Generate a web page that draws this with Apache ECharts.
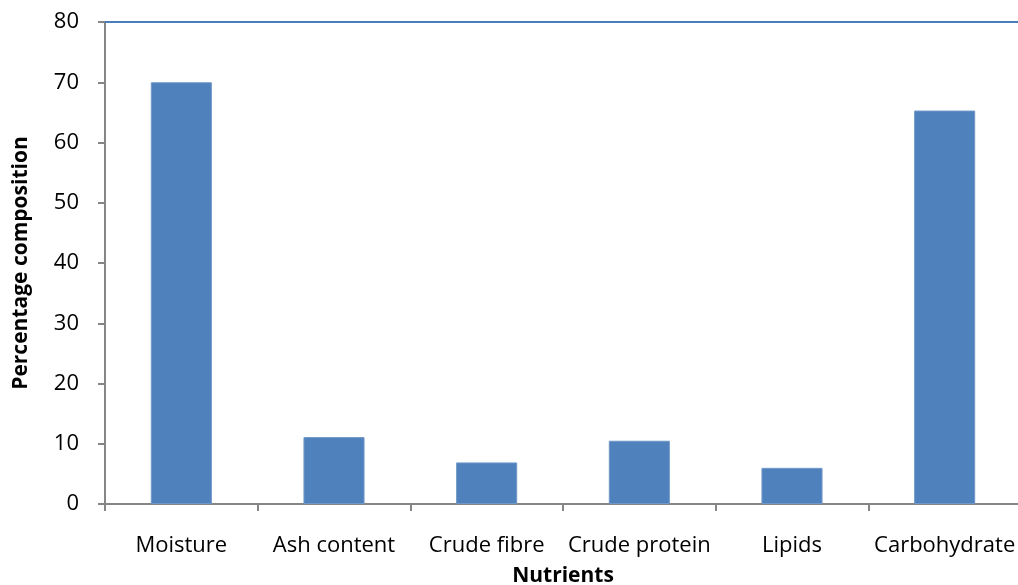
<!DOCTYPE html>
<html>
<head>
<meta charset="utf-8">
<script src="https://cdn.jsdelivr.net/npm/echarts@6/dist/echarts.min.js"></script>
<style>
html,body{margin:0;padding:0;background:#fff;}
#main{width:1018px;height:585px;}
</style>
</head>
<body>
<div id="main"></div>
<script>
// 数据
var nutrients = ['Moisture', 'Ash content', 'Crude fibre', 'Crude protein', 'Lipids', 'Carbohydrate'];
var composition = [70.0, 11.1, 6.9, 10.5, 6.0, 65.3];
var yTicks = [0, 10, 20, 30, 40, 50, 60, 70, 80];

var fontFam = '"Open Sans", "Liberation Sans", sans-serif';
var axisGray = '#868686';

var chart = echarts.init(document.getElementById('main'));
var option = {
    animation: false,
    grid: {
        left: 105,
        top: 22,
        width: 916,
        height: 482,
        containLabel: false,
        outerBoundsMode: 'none'
    },
    xAxis: [
        {
            type: 'category',
            data: nutrients,
            name: 'Nutrients',
            nameLocation: 'middle',
            nameGap: 62,
            nameTextStyle: { fontFamily: fontFam, fontSize: 21, fontWeight: 'bold', color: '#000' },
            axisLine: { lineStyle: { color: axisGray, width: 2 } },
            axisTick: { show: true, length: 7, lineStyle: { color: axisGray, width: 2 } },
            axisLabel: { fontFamily: fontFam, fontSize: 22, color: '#000', margin: 31, interval: 0 }
        },
        {
            type: 'category',
            position: 'top',
            data: nutrients,
            axisLine: { lineStyle: { color: '#4a7ebb', width: 2 } },
            axisTick: { show: false },
            axisLabel: { show: false }
        }
    ],
    yAxis: {
        type: 'value',
        min: yTicks[0],
        max: yTicks[yTicks.length - 1],
        interval: 10,
        name: 'Percentage composition',
        nameLocation: 'middle',
        nameGap: 73,
        nameRotate: 90,
        nameTextStyle: { fontFamily: fontFam, fontSize: 21, fontWeight: 'bold', color: '#000' },
        axisLine: { show: true, lineStyle: { color: axisGray, width: 2 } },
        axisTick: { show: true, length: 7, lineStyle: { color: axisGray, width: 2 } },
        axisLabel: { fontFamily: fontFam, fontSize: 22, color: '#000', margin: 26 },
        splitLine: { show: false }
    },
    series: [
        {
            type: 'bar',
            data: composition,
            barWidth: '40%',
            itemStyle: { color: '#4f81bd', borderColor: '#6f97c8', borderWidth: 1 }
        }
    ]
};
chart.setOption(option);
</script>
</body>
</html>
